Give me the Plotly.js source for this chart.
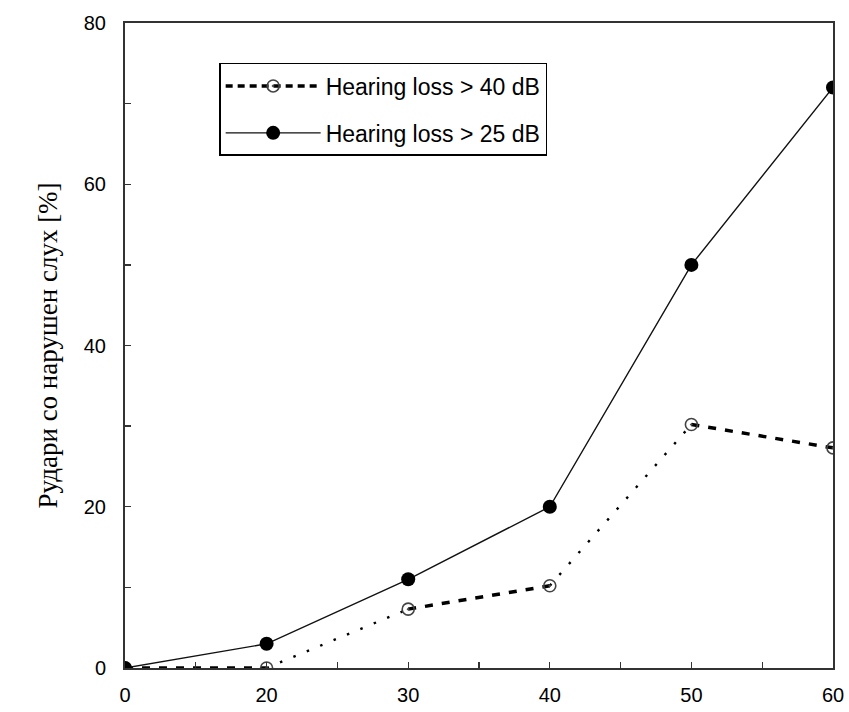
<!DOCTYPE html>
<html>
<head>
<meta charset="utf-8">
<script src="https://cdn.plot.ly/plotly-3.0.1.min.js"></script>
<style>html,body{margin:0;padding:0;background:#fff;}#chart{width:849px;height:712px;}</style>
</head>
<body>
<div id="chart"></div>
<script>
// Data
const ageLabels = ['0', '20', '30', '40', '50', '60'];
const loss25 = [0, 3, 11, 20, 50, 72];
const loss40 = [0, 0, 7.3, 10.2, 30.2, 27.3];
// style of each segment of the >40 dB line (between consecutive points)
const seg40Styles = ['dash', 'dot', 'dash', 'dot', 'dash'];
const yTickVals = [0, 10, 20, 30, 40, 50, 60, 70, 80];
const yLabelVals = [0, 20, 40, 60, 80];

const xIdx = ageLabels.map((_, i) => i);
// x ticks at every category and halfway between them
const xTickVals = [];
xIdx.forEach((v, i) => {
  xTickVals.push(v);
  if (i < xIdx.length - 1) xTickVals.push(v + 0.5);
});

const DASH_THICK = {width: 3.5, dash: '8px,9px'};
const DOT_THIN = {width: 2.4, dash: '2.5px,12px'};

const traces = [];
for (let i = 0; i < loss40.length - 1; i++) {
  const st = seg40Styles[i] === 'dash' ? DASH_THICK : DOT_THIN;
  traces.push({
    x: [xIdx[i], xIdx[i + 1]],
    y: [loss40[i], loss40[i + 1]],
    mode: 'lines',
    line: {color: '#000', width: st.width, dash: st.dash},
    showlegend: false,
    hoverinfo: 'skip'
  });
}
const marker40 = {symbol: 'circle-open-dot', size: 12, color: '#444', line: {width: 1.6, color: '#444'}};
traces.push({
  x: xIdx, y: loss40,
  mode: 'markers',
  name: 'Hearing loss > 40 dB',
  marker: marker40,
  showlegend: false
});
// legend entry for >40 dB
traces.push({
  x: [null], y: [null],
  mode: 'lines+markers',
  name: 'Hearing loss > 40 dB',
  legendgroup: 'a',
  line: {color: '#000', width: 3.5, dash: '7px,5px'},
  marker: marker40
});
traces.push({
  x: xIdx, y: loss25,
  mode: 'lines+markers',
  name: 'Hearing loss > 25 dB',
  legendgroup: 'b',
  line: {color: '#111', width: 1.4},
  marker: {symbol: 'circle', size: 14, color: '#000'}
});
// invisible trace carrying the label axes
traces.push({x: [0], y: [0], xaxis: 'x2', yaxis: 'y2', mode: 'markers', marker: {opacity: 0}, showlegend: false, hoverinfo: 'skip'});

const frameAxis = {
  ticks: 'inside', ticklen: 6, tickwidth: 1.3, tickcolor: '#333',
  showline: true, linecolor: '#333', linewidth: 1.8, mirror: true,
  showgrid: false, zeroline: false, showticklabels: false
};

const layout = {
  width: 849, height: 712,
  margin: {l: 125, r: 16, t: 23, b: 44},
  paper_bgcolor: '#fff', plot_bgcolor: 'rgba(0,0,0,0)',
  font: {family: 'Liberation Sans, Arial, sans-serif', color: '#000', size: 20},
  xaxis: Object.assign({range: [0, 5], tickmode: 'array', tickvals: xTickVals}, frameAxis),
  yaxis: Object.assign({range: [0, 80], tickmode: 'array', tickvals: yTickVals}, frameAxis),
  xaxis2: {
    overlaying: 'x', side: 'bottom', range: [0, 5],
    tickmode: 'array', tickvals: xIdx, ticktext: ageLabels,
    ticks: 'outside', ticklen: 9, tickcolor: 'rgba(0,0,0,0)',
    showline: false, showgrid: false, zeroline: false,
    tickfont: {size: 20, color: '#000'}
  },
  yaxis2: {
    overlaying: 'y', side: 'left', range: [0, 80],
    tickmode: 'array', tickvals: yLabelVals,
    ticks: 'outside', ticklen: 14, tickcolor: 'rgba(0,0,0,0)',
    showline: false, showgrid: false, zeroline: false,
    tickfont: {size: 20, color: '#000'},
    title: {text: 'Рудари со нарушен слух [%]', font: {family: 'Liberation Serif, Times New Roman, serif', size: 27, color: '#000'}, standoff: 18}
  },
  legend: {
    x: 0.133, y: 0.938, xanchor: 'left', yanchor: 'top',
    bgcolor: '#fff', bordercolor: '#000', borderwidth: 1.5,
    font: {size: 23, color: '#000'},
    itemwidth: 95,
    traceorder: 'grouped', tracegroupgap: 14
  },
  showlegend: true
};

Plotly.newPlot('chart', traces, layout, {displayModeBar: false, staticPlot: true});
</script>
</body>
</html>
